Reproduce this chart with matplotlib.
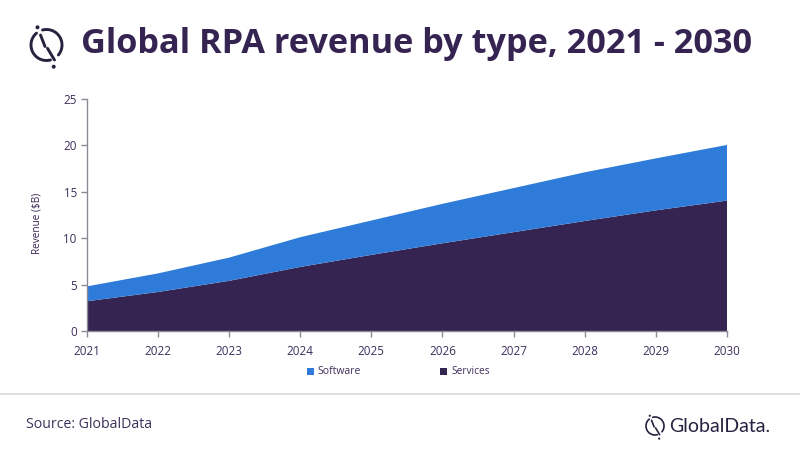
import matplotlib
matplotlib.use('Agg')
import matplotlib.pyplot as plt
from matplotlib.patches import Circle, Rectangle
from matplotlib.lines import Line2D
import numpy as np

years = [2021, 2022, 2023, 2024, 2025, 2026, 2027, 2028, 2029, 2030]
services = [3.2, 4.2, 5.4, 6.9, 8.2, 9.45, 10.65, 11.85, 13.0, 14.05]
software = [1.6, 2.0, 2.5, 3.2, 3.7, 4.25, 4.75, 5.25, 5.6, 6.0]
yticks = [0, 5, 10, 15, 20, 25]

DARK = '#352451'
BLUE = '#2E7BDA'
TXT = '#3D2F5B'
W, H = 800, 450
plt.rcParams['font.family'] = ['Open Sans', 'DejaVu Sans']

fig = plt.figure(figsize=(8, 4.5), dpi=100, facecolor='white')
ax = fig.add_axes([86.5 / W, 1 - 331 / H, (727 - 86.5) / W, (331 - 99) / H])
ax.stackplot(years, services, software, colors=[DARK, BLUE], labels=['Services', 'Software'], linewidth=0)
ax.set_xlim(2021, 2030)
ax.set_ylim(0, 25)
ax.set_xticks(years)
ax.set_yticks(yticks)
ax.tick_params(axis='both', labelsize=8.4, colors='#8C8A94', labelcolor=TXT, length=4, width=1)
ax.tick_params(axis='x', pad=6)
ax.tick_params(axis='y', pad=3)
for s in ['top', 'right']:
    ax.spines[s].set_visible(False)
for s in ['left', 'bottom']:
    ax.spines[s].set_color('#8C8A94')
    ax.spines[s].set_linewidth(1)

# overlay in pixel coordinates
ov = fig.add_axes([0, 0, 1, 1], facecolor='none')
ov.set_xlim(0, W)
ov.set_ylim(H, 0)
ov.axis('off')

ov.text(81, 44, 'Global RPA revenue by type, 2021 - 2030', fontsize=24.7, fontweight='bold',
        color=DARK, va='center', ha='left')
ov.text(37, 223, 'Revenue ($B)', fontsize=7.2, color=DARK, rotation=90, va='center', ha='center')

def logo(cx, cy, r, lw, color, dot):
    for a0, a1 in [(-40, 105), (130, 285)]:
        t = np.radians(np.linspace(a0, a1, 60))
        ov.add_line(Line2D(cx + r * np.cos(t), cy - r * np.sin(t), lw=lw, color=color, solid_capstyle='round'))
    k = r / 15.5
    ov.add_line(Line2D([cx - 6 * k, cx - 1.5 * k], [cy - 10 * k, cy + 1.5 * k], lw=lw, color=color, solid_capstyle='round'))
    ov.add_line(Line2D([cx + 1 * k, cx + 8 * k], [cy + 3.3 * k, cy + 15 * k], lw=lw, color=color, solid_capstyle='round'))
    ov.add_patch(Circle((cx - 9 * k, cy - 17.7 * k), dot, color=color, lw=0))
    ov.add_patch(Circle((cx + 7.2 * k, cy + 21.7 * k), dot, color=color, lw=0))

logo(46.5, 45, 15.5, 2.1, '#25233F', 2)
logo(655, 426, 9, 1.2, '#25233F', 1.1)

# legend
ov.add_patch(Rectangle((307, 368), 7, 7, color=BLUE, lw=0))
ov.text(317, 372, 'Software', fontsize=7.5, color=TXT, va='center')
ov.add_patch(Rectangle((440, 368), 7, 7, color=DARK, lw=0))
ov.text(451, 372, 'Services', fontsize=7.3, color=TXT, va='center')

# footer
ov.add_line(Line2D([0, W], [394, 394], color='#D9D9D9', lw=1.2))
ov.text(26, 425, 'Source: GlobalData', fontsize=10.2, color=TXT, va='center')
ov.text(669, 426, 'GlobalData.', fontsize=14, color='#25233F', va='center', family=['Lato', 'DejaVu Sans'])

fig.savefig('out.png', dpi=100, facecolor='white')
